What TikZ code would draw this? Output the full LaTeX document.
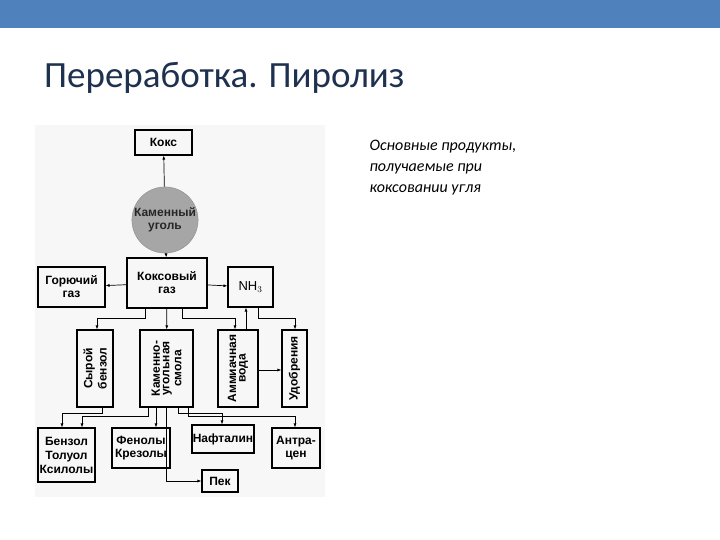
\documentclass[tikz,border=0pt]{standalone}
\usepackage{fontspec}
\setmainfont{Carlito}
\setsansfont{Liberation Sans}
\usetikzlibrary{arrows.meta}
\begin{document}
\begin{tikzpicture}[x=1pt,y=-1pt,
  bx/.style={draw,line width=1.1pt,font=\sffamily\bfseries\fontsize{12}{13}\selectfont,align=center,inner sep=0pt},
  ar/.style={-{Latex[length=4pt,width=3pt]},line width=0.7pt},
  ln/.style={line width=0.7pt}]
\useasboundingbox (0,0) rectangle (720,540);
\fill[fill=white] (0,0) rectangle (720,540);
\fill[fill={rgb,255:red,79;green,129;blue,189}] (0,0) rectangle (720,28);
\node[anchor=west,inner sep=0pt,font=\fontsize{37}{40}\selectfont,text={rgb,255:red,30;green,50;blue,80}] (title) at (44,78) {Переработка. Пиролиз};
\node[anchor=north west,align=left,font=\itshape\fontsize{16}{21}\selectfont] (desc) at (366,137) {Основные продукты,\\получаемые при\\коксовании угля};
\fill[fill=black!3] (35,125) rectangle (325,497);
% nodes
\node[bx,minimum width=57pt,minimum height=25pt] (koks) at (163.5,142.5) {Кокс};
\node[circle,fill=black!35,draw=black!45,minimum size=66pt,inner sep=0pt,font=\sffamily\bfseries\fontsize{12}{13}\selectfont,align=center,text=black!85] (ugol) at (165,220) {Каменный\\уголь};
\node[bx,minimum width=67pt,minimum height=40pt] (gor) at (71.5,287) {Горючий\\газ};
\node[bx,minimum width=80pt,minimum height=50pt] (kg) at (167,283) {Коксовый\\газ};
\node[bx,minimum width=45pt,minimum height=40pt] (nh) at (250.5,287) {\fontsize{13}{14}\mdseries NH$_3$};
\node[bx,minimum width=36pt,minimum height=77pt] (syr) at (95,368.5) {\rotatebox{90}{\shortstack{Сырой\\бензол}}};
\node[bx,minimum width=53pt,minimum height=77pt] (sm) at (166.5,368.5) {\rotatebox{90}{\shortstack{Каменно-\\угольная\\смола}}};
\node[bx,minimum width=40pt,minimum height=77pt] (am) at (238,368.5) {\rotatebox{90}{\shortstack{Аммиачная\\вода}}};
\node[bx,minimum width=25pt,minimum height=77pt] (ud) at (294.5,368.5) {\rotatebox{90}{Удобрения}};
\node[bx,minimum width=57pt,minimum height=54pt] (benz) at (66.5,455) {Бензол\\[1pt]Толуол\\[1pt]Ксилолы};
\node[bx,minimum width=58pt,minimum height=40pt] (fen) at (141,448) {Фенолы\\Крезолы};
\node[bx,minimum width=62pt,minimum height=28pt] (naf) at (223,439) {Нафталин};
\node[bx,minimum width=48pt,minimum height=40pt] (ant) at (296,448) {Антра-\\цен};
\node[bx,minimum width=36pt,minimum height=22pt] (pek) at (220,481) {Пек};
% connectors
\draw[ar] (ugol) -- (koks);
\draw[ar] (ugol) -- (kg);
\draw[ar] (kg) -- (gor);
\draw[ar] (kg) -- (nh);
\draw[ar] (kg.south -| 145,0) |- (97,318) -- (syr.north -| 97,0);
\draw[ar] (kg) -- (sm);
\draw[ar] (kg.south -| 182,0) |- (235,318) -- (am.north -| 235,0);
\draw[ar] (am.north -| 246,0) -- (nh.south -| 246,0);
\draw[ar] (nh.south -| 258,0) |- (295,318) -- (ud.north -| 295,0);
\draw[ar] (am.east |- 0,370) -- (ud.west |- 0,370);
\draw[ar] (syr.south -| 102,0) |- (62,413) -- (benz.north -| 62,0);
\draw[ar] (sm.south -| 148,0) |- (82,416) -- (benz.north -| 82,0);
\draw[ar] (sm.south -| 156,0) -- (fen.north -| 156,0);
\draw[ar] (sm.south -| 166,0) |- (pek.west);
\draw[ar] (sm.south -| 178,0) |- (222,413) -- (naf.north -| 222,0);
\draw[ar] (sm.south -| 188,0) |- (295,416) -- (ant.north -| 295,0);
\end{tikzpicture}
\end{document}
